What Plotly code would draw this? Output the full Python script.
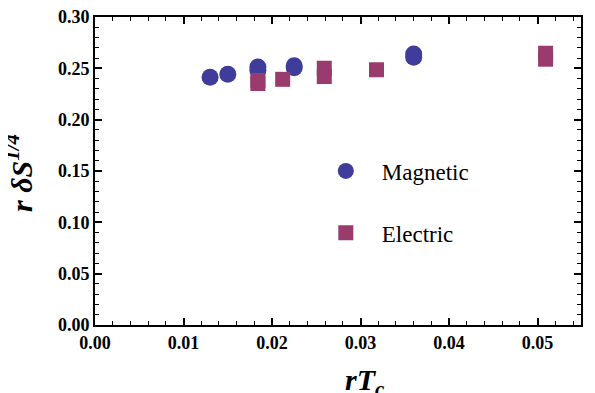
import plotly.graph_objects as go

# Data
mag_x = [0.0130, 0.0150, 0.0184, 0.0184, 0.0225, 0.0225, 0.0360, 0.0360]
mag_y = [0.2413, 0.2442, 0.2512, 0.2482, 0.2525, 0.2505, 0.2640, 0.2607]
ele_x = [0.0184, 0.0184, 0.0212, 0.0259, 0.0259, 0.0318, 0.0509, 0.0509]
ele_y = [0.2382, 0.2352, 0.2393, 0.2501, 0.2420, 0.2486, 0.2647, 0.2589]

x_ticks = [0.00, 0.01, 0.02, 0.03, 0.04, 0.05]
y_ticks = [0.00, 0.05, 0.10, 0.15, 0.20, 0.25, 0.30]

blue = "rgb(63,60,155)"
mag = "rgb(153,59,108)"
font = "Liberation Serif"

fig = go.Figure()
fig.add_trace(go.Scatter(x=mag_x, y=mag_y, mode="markers", name="Magnetic",
                         legendgroup="a",
                         marker=dict(symbol="circle", size=17, color=blue)))
fig.add_trace(go.Scatter(x=ele_x, y=ele_y, mode="markers", name="Electric",
                         legendgroup="b",
                         marker=dict(symbol="square", size=15, color=mag)))

axis_common = dict(
    showline=True, linecolor="black", linewidth=2, mirror="allticks",
    ticks="inside", ticklen=7, tickwidth=1.5, tickcolor="black",
    showgrid=False, zeroline=False, automargin=False,
    ticklabeloverflow="allow",
    tickfont=dict(family=font, size=18, color="black"),
)

fig.update_xaxes(range=[0, 0.0549], tickvals=x_ticks,
                 ticktext=[f"<b>{v:.2f}</b>" for v in x_ticks],
                 minor=dict(ticks="inside", ticklen=4, tickwidth=1.2,
                            tickcolor="black", dtick=0.002, tick0=0),
                 **axis_common)
fig.update_yaxes(range=[0, 0.30], tickvals=y_ticks,
                 ticktext=[f"<b>{v:.2f}</b>" for v in y_ticks],
                 minor=dict(ticks="inside", ticklen=4, tickwidth=1.2,
                            tickcolor="black", dtick=0.01, tick0=0),
                 **axis_common)

fig.add_annotation(text="<b><i>rT<sub>c</sub></i></b>", xref="paper", yref="paper",
                   x=0.556, y=-0.185, xanchor="center", yanchor="middle",
                   showarrow=False, font=dict(family=font, size=30, color="black"))
fig.add_annotation(text="<b><i>r δS<sup>1/4</sup></i></b>", xref="paper", yref="paper",
                   x=-0.156, y=0.494, xanchor="center", yanchor="middle", textangle=-90,
                   showarrow=False, font=dict(family=font, size=30, color="black"))

fig.update_layout(
    width=595, height=393,
    margin=dict(l=87, r=22, t=9, b=76),
    plot_bgcolor="white", paper_bgcolor="white",
    showlegend=True,
    legend=dict(x=0.442, y=0.57, xanchor="left", yanchor="top",
                bgcolor="rgba(0,0,0,0)", tracegroupgap=29,
                font=dict(family=font, size=23, color="black"),
                itemwidth=62),
)

fig.write_html("out.html")
